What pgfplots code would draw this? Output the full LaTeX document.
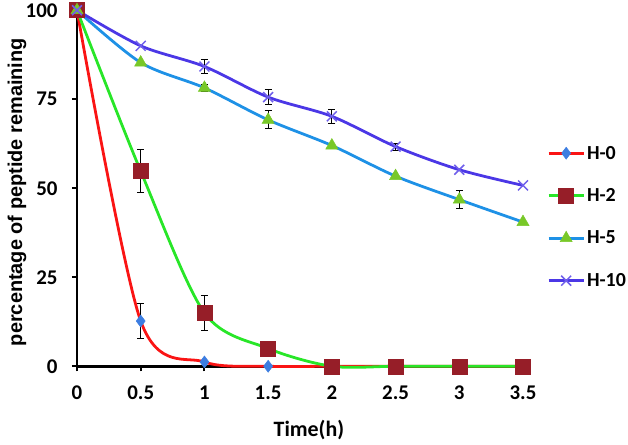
\documentclass[border=0pt]{standalone}
\usepackage{fontspec}
\setmainfont{Carlito}
\newfontfamily\arialb{Liberation Sans}
\usepackage{pgfplots}
\pgfplotsset{compat=1.18}
\definecolor{cRed}{RGB}{250,20,20}
\definecolor{cDia}{RGB}{60,125,225}
\definecolor{cGreen}{RGB}{40,230,40}
\definecolor{cSq}{RGB}{150,30,40}
\definecolor{cBlue}{RGB}{30,145,230}
\definecolor{cTri}{RGB}{120,200,40}
\definecolor{cPurp}{RGB}{75,55,230}
\newcommand\tkl{\fontsize{21}{23}\selectfont\bfseries}
\newcommand\lgf{\fontsize{20}{22}\selectfont\bfseries}
\begin{document}
\begin{tikzpicture}
\begin{axis}[
  scale only axis, width=446bp, height=356bp,
  xmin=0, xmax=3.5, ymin=0, ymax=100,
  axis x line=bottom, axis y line=left,
  axis line style={line width=3pt, -},
  xtick={0,0.5,1,1.5,2,2.5,3,3.5},
  ytick={0,25,50,75,100},
  xticklabels={0,0.5,1,1.5,2,2.5,3,3.5},
  tick align=outside, major tick length=5bp,
  tick style={line width=2pt, black},
  /pgf/number format/assume math mode=true,
  tick label style={font=\tkl},
  xticklabel style={yshift=-11bp},
  yticklabel style={xshift=-11bp},
  clip=false,
  every axis x label/.style={at={(axis description cs:0.52,-0.18)}, anchor=center},
  every axis y label/.style={at={(axis description cs:-0.1345,0.489)}, rotate=90, anchor=center},
  xlabel={\fontsize{22}{24}\selectfont\bfseries Time(h)},
  ylabel={\arialb\fontsize{20}{22}\selectfont\bfseries percentage of peptide remaining},
  legend style={at={(axis description cs:1.054,0.625)}, anchor=north west, draw=none, fill=none,
    font=\lgf, row sep=24bp, inner sep=0pt, cells={anchor=west}},
  legend image code/.code={\draw[#1, mark repeat=2, mark phase=2] plot coordinates {(0bp,0bp)(17.5bp,0bp)(35bp,0bp)};},
  every axis plot/.append style={line width=2.8pt},
]
\addplot[cRed, smooth, mark=diamond*, mark size=6bp, mark options={fill=cDia, draw=cDia, line width=0.5pt}]
 coordinates {(0,100)(0.5,12.7)(1,1.2)(1.5,0)(2,0)(2.5,0)(3,0)(3.5,0)};
\addlegendentry{H-0}
\addplot[cGreen, smooth, mark=square*, mark size=7.5bp, mark options={fill=cSq, draw=cSq, line width=0.5pt}]
 coordinates {(0,100)(0.5,54.8)(1,15)(1.5,5)(2,0)(2.5,0)(3,0)(3.5,0)};
\addlegendentry{H-2}
\addplot[cBlue, smooth, mark=triangle*, mark size=7bp, mark options={fill=cTri, draw=cTri, line width=0.5pt}]
 coordinates {(0,100)(0.5,85.3)(1,78.2)(1.5,69.2)(2,62)(2.5,53.4)(3,46.8)(3.5,40.5)};
\addlegendentry{H-5}
\addplot[cPurp, smooth, mark=x, mark size=7bp, mark options={draw=cPurp!80, line width=1.5pt}]
 coordinates {(0,100)(0.5,90)(1,84.2)(1.5,75.6)(2,70.2)(2.5,61.7)(3,55.2)(3.5,50.8)};
\addlegendentry{H-10}
% error bars
\pgfplotsset{ebar/.style={draw=none, mark=none, forget plot,
  error bars/.cd, y dir=both, y explicit, error mark=|, error mark options={black, line width=1pt, mark size=3.5bp},
  error bar style={black, line width=1.2pt}}}
\addplot[ebar] coordinates {(0.5,12.7) +- (0,5)};
\addplot[ebar] coordinates {(0.5,54.8) +- (0,6) (1,15) +- (0,5) (1.5,5) +- (0,1)};
\addplot[ebar] coordinates {(1,78.2) +- (0,1) (1.5,69.2) +- (0,2.5) (3,46.8) +- (0,2.5)};
\addplot[ebar] coordinates {(1,84.2) +- (0,2) (1.5,75.6) +- (0,2) (2,70.2) +- (0,2) (2.5,61.7) +- (0,1)};
\end{axis}
\useasboundingbox (-77bp,-78bp) rectangle (551bp,366bp);
\end{tikzpicture}
\end{document}
